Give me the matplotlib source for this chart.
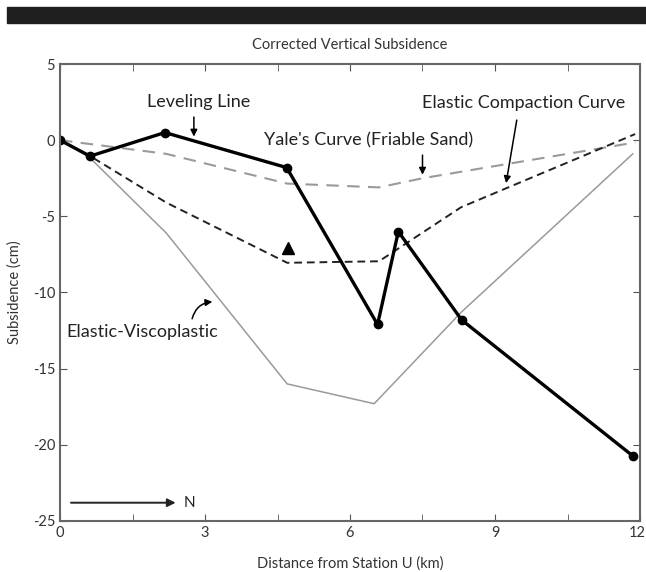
import matplotlib
matplotlib.use("Agg")
import matplotlib.pyplot as plt
from matplotlib.patches import Rectangle
import matplotlib.transforms as mtransforms

plt.rcParams['font.family'] = ['Lato', 'DejaVu Sans']
plt.rcParams['axes.unicode_minus'] = False

# distance (km) / subsidence (cm)
level_x = [0, 0.62, 2.17, 4.69, 6.57, 7.0, 8.31, 11.86]
level_y = [0, -1.05, 0.5, -1.8, -12.1, -6.0, -11.8, -20.75]

yale_x = [0, 2.2, 4.7, 6.6, 7.5, 11.9]
yale_y = [0, -0.9, -2.85, -3.1, -2.5, -0.15]

elastic_x = [0, 0.6, 2.2, 4.7, 6.6, 8.3, 11.9]
elastic_y = [0, -1.0, -4.1, -8.05, -7.95, -4.4, 0.4]

visco_x = [0, 0.6, 2.2, 4.7, 6.5, 8.3, 11.85]
visco_y = [0, -1.1, -6.1, -16.0, -17.3, -11.3, -0.9]

tri_x, tri_y = 4.71, -7.1

xticks = [0, 3, 6, 9, 12]
yticks = [-25, -20, -15, -10, -5, 0, 5]

fig = plt.figure(figsize=(6.46, 5.72), dpi=100)
fig.patches.append(Rectangle((7/646, 1 - 23/572), 1, 16/572, transform=fig.transFigure,
                             color='#1e1e1e', zorder=0))
ax = fig.add_axes([60/646, 51/572, 580/646, 457/572])

ax.plot(visco_x, visco_y, color='#9a9a9a', lw=1.1)
ax.plot(yale_x, yale_y, color='#9a9a9a', lw=1.5, dashes=(6, 4))
ax.plot(elastic_x, elastic_y, color='#222222', lw=1.4, dashes=(4, 2.5))
ax.plot(level_x, level_y, color='black', lw=2.4, marker='o', ms=6)
ax.plot([tri_x], [tri_y], marker='^', color='black', ms=8, ls='none')

ax.set_xlim(0, 12)
ax.set_ylim(-25, 5)
ax.set_xticks(xticks)
ax.set_xticks([1.5, 4.5, 7.5, 10.5], minor=True)
ax.set_yticks(yticks)
ax.tick_params(which='both', direction='in', top=True, right=True, length=5,
               color='#555555', labelsize=10.5, labelcolor='#333333')
for s in ax.spines.values():
    s.set_color('#666666')
    s.set_linewidth(1.5)

# keep the last x label inside the image
last = ax.get_xticklabels()[-1]
last.set_transform(last.get_transform() + mtransforms.ScaledTranslation(-3/100, 0, fig.dpi_scale_trans))

ax.set_title('Corrected Vertical Subsidence', fontsize=10.5, color='#333333', pad=11)
ax.set_xlabel('Distance from Station U (km)', fontsize=10.5, color='#333333', labelpad=12)
ax.set_ylabel('Subsidence (cm)', fontsize=10.5, color='#333333', labelpad=8)

txt = dict(fontsize=13, color='#222222', ha='center', va='center')
ax.text(2.86, 2.5, 'Leveling Line', **txt)
ax.text(6.39, 0.0, "Yale's Curve (Friable Sand)", **txt)
ax.text(9.6, 2.45, 'Elastic Compaction Curve', **txt)
ax.text(1.71, -12.6, 'Elastic-Viscoplastic', **txt)

arr = dict(arrowstyle='-|>', color='black', lw=1.1, mutation_scale=10)
ax.annotate('', xy=(2.77, 0.05), xytext=(2.77, 1.7), arrowprops=arr)
ax.annotate('', xy=(7.5, -2.45), xytext=(7.5, -0.8), arrowprops=arr)
ax.annotate('', xy=(9.22, -3.0), xytext=(9.46, 1.5), arrowprops=arr)
ax.annotate('', xy=(3.21, -10.6), xytext=(2.72, -11.9),
            arrowprops=dict(arr, connectionstyle='arc3,rad=-0.4'))
ax.annotate('', xy=(2.45, -23.8), xytext=(0.17, -23.8),
            arrowprops=dict(arrowstyle='-|>', color='#222222', lw=1.4, mutation_scale=12))
ax.text(2.55, -23.8, 'N', fontsize=11, color='#222222', ha='left', va='center')

fig.savefig('out.png', dpi=100)
